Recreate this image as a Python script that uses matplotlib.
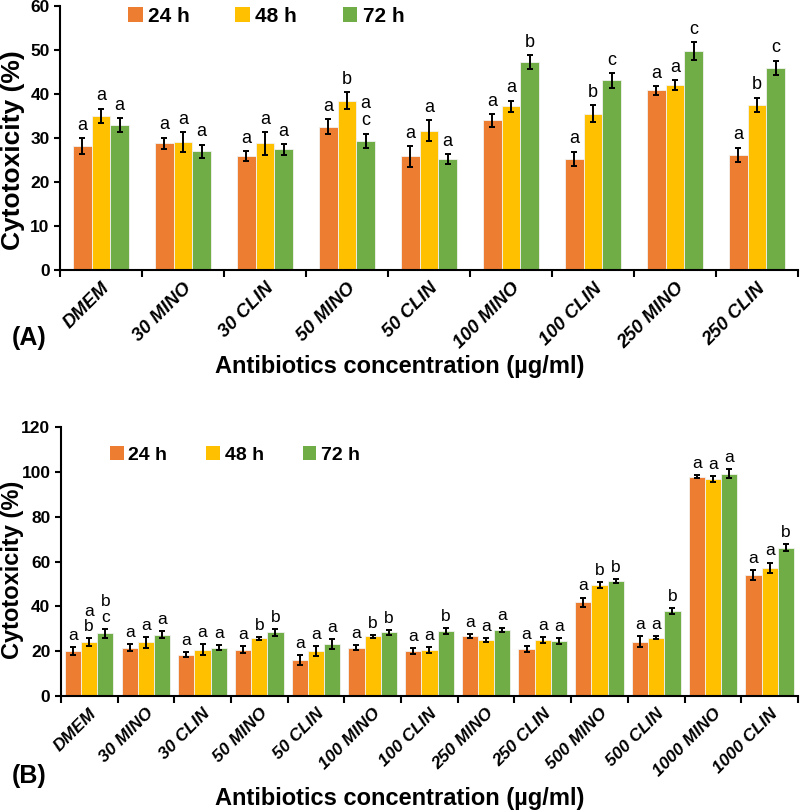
"""
Cytotoxicity of minocycline / clindamycin at 24, 48 and 72 h.
Two stacked bar panels, (A) and (B), saved to out.png.
"""
import matplotlib
matplotlib.use("Agg")
import matplotlib.pyplot as plt
from matplotlib import font_manager
from matplotlib.patches import Patch
import numpy as np

FAMILY = "Liberation Sans"
if FAMILY not in {f.name for f in font_manager.fontManager.ttflist}:
    FAMILY = "DejaVu Sans"
plt.rcParams["font.family"] = [FAMILY, "DejaVu Sans"]

series_names = ["24 h", "48 h", "72 h"]
colors = ["#ED7D31", "#FFC000", "#70AD47"]

# panel A
cats_a = ["DMEM", "30 MINO", "30 CLIN", "50 MINO", "50 CLIN",
          "100 MINO", "100 CLIN", "250 MINO", "250 CLIN"]
a_24 = [28.2, 28.8, 25.9, 32.6, 25.8, 34.0, 25.3, 40.8, 26.2]
a_48 = [35.0, 29.1, 28.8, 38.5, 31.7, 37.2, 35.5, 42.1, 37.6]
a_72 = [33.0, 27.0, 27.4, 29.4, 25.3, 47.2, 43.1, 49.8, 46.0]
a_24_err = [1.8, 1.3, 1.2, 1.7, 2.3, 1.4, 1.6, 1.0, 1.6]
a_48_err = [1.7, 2.3, 2.6, 1.9, 2.4, 1.3, 1.9, 1.1, 1.6]
a_72_err = [1.6, 1.5, 1.3, 1.6, 1.1, 1.6, 1.7, 2.0, 1.6]
a_24_let = ["a", "a", "a", "a", "a", "a", "a", "a", "a"]
a_48_let = ["a", "a", "a", "b", "a", "a", "b", "a", "b"]
a_72_let = ["a", "a", "a", "a\nc", "a", "b", "c", "c", "c"]

# panel B
cats_b = ["DMEM", "30 MINO", "30 CLIN", "50 MINO", "50 CLIN", "100 MINO",
          "100 CLIN", "250 MINO", "250 CLIN", "500 MINO", "500 CLIN",
          "1000 MINO", "1000 CLIN"]
b_24 = [20.1, 21.6, 18.4, 20.6, 16.1, 21.6, 20.1, 26.7, 21.0, 41.9, 24.3, 97.9, 54.0]
b_48 = [23.9, 23.9, 20.6, 25.7, 20.1, 26.6, 20.6, 25.1, 25.1, 49.6, 26.1, 96.9, 57.3]
b_72 = [27.9, 27.3, 21.6, 28.4, 23.3, 28.4, 29.0, 29.6, 24.6, 51.2, 37.8, 99.1, 66.1]
b_24_err = [1.8, 1.5, 1.1, 1.5, 2.3, 1.2, 1.2, 0.9, 1.3, 2.0, 2.3, 0.6, 2.2]
b_48_err = [1.8, 2.4, 2.5, 0.7, 2.3, 0.6, 1.3, 0.8, 1.3, 1.3, 0.8, 1.3, 2.2]
b_72_err = [1.9, 1.6, 1.1, 1.5, 2.2, 1.2, 1.2, 0.9, 1.3, 0.9, 1.3, 2.0, 1.6]
b_24_let = ["a"] * 13
b_48_let = ["a\nb", "a", "a", "b", "a", "b", "a", "a", "a", "b", "a", "a", "a"]
b_72_let = ["b\nc", "a", "a", "b", "a", "b", "b", "a", "a", "b", "b", "a", "b"]


def draw_panel(ax, cats, vals, errs, lets, width, ymax, ystep,
               tick_size, let_size):
    x = np.arange(len(cats))
    for j, (v, e, lab) in enumerate(zip(vals, errs, lets)):
        xs = x + (j - 1) * width
        ax.bar(xs, v, width, color=colors[j], edgecolor="#f2f2f2",
               linewidth=0.6, zorder=2)
        ax.errorbar(xs, v, yerr=e, fmt="none", ecolor="black",
                    elinewidth=1.4, capsize=2.5, capthick=1.4, zorder=3)
        for xi, vi, ei, t in zip(xs, v, e, lab):
            ax.annotate(t, (xi, vi + ei), xytext=(0, 3),
                        textcoords="offset points", ha="center",
                        va="bottom", fontsize=let_size, linespacing=1.05)
    ax.set_xlim(-0.5, len(cats) - 0.5)
    ax.set_ylim(0, ymax)
    ax.set_yticks(np.arange(0, ymax + 1, ystep))
    ax.set_xticks(x)
    ax.set_xticklabels(cats, rotation=45, ha="right",
                       rotation_mode="anchor", fontsize=tick_size,
                       fontweight="bold", fontstyle="italic")
    ax.set_xticks(np.arange(-0.5, len(cats)), minor=True)
    ax.tick_params(axis="x", which="major", length=0, pad=7)
    ax.tick_params(axis="x", which="minor", length=5, width=1.5)
    ax.tick_params(axis="y", length=4, width=1.5, labelsize=12.5)
    for lbl in ax.get_yticklabels():
        lbl.set_fontweight("bold")
    for s in ("top", "right"):
        ax.spines[s].set_visible(False)
    for s in ("left", "bottom"):
        ax.spines[s].set_linewidth(1.5)


fig = plt.figure(figsize=(8, 8.1), dpi=100)
ax_a = fig.add_axes([0.075, 0.6667, 0.9225, 0.3259])
ax_b = fig.add_axes([0.076, 0.1407, 0.9215, 0.3321])

draw_panel(ax_a, cats_a, [a_24, a_48, a_72], [a_24_err, a_48_err, a_72_err],
           [a_24_let, a_48_let, a_72_let], 0.227, 60, 10, 13.5, 13)
draw_panel(ax_b, cats_b, [b_24, b_48, b_72], [b_24_err, b_48_err, b_72_err],
           [b_24_let, b_48_let, b_72_let], 0.286, 120, 20, 12.5, 12.5)

handles = [Patch(facecolor=c, edgecolor="none") for c in colors]
fig.legend(handles, series_names, loc="center left",
           bbox_to_anchor=(128 / 800, 1 - 16 / 810), ncol=3, frameon=False,
           handlelength=0.7, handleheight=0.7, handletextpad=0.25,
           columnspacing=2.2, borderpad=0, borderaxespad=0,
           prop={"weight": "bold", "size": 15})
fig.legend(handles, series_names, loc="center left",
           bbox_to_anchor=(110 / 800, 1 - 455 / 810), ncol=3, frameon=False,
           handlelength=0.7, handleheight=0.7, handletextpad=0.25,
           columnspacing=2.0, borderpad=0, borderaxespad=0,
           prop={"weight": "bold", "size": 14})

fig.text(13 / 800, 1 - 150 / 810, "Cytotoxicity (%)", rotation=90,
         ha="center", va="center", fontsize=19, fontweight="bold")
fig.text(13 / 800, 1 - 570 / 810, "Cytotoxicity (%)", rotation=90,
         ha="center", va="center", fontsize=17, fontweight="bold")
fig.text(400 / 800, 1 - 367 / 810, "Antibiotics concentration (µg/ml)",
         ha="center", va="center", fontsize=17, fontweight="bold")
fig.text(400 / 800, 1 - 798 / 810, "Antibiotics concentration (µg/ml)",
         ha="center", va="center", fontsize=17, fontweight="bold")
fig.text(12 / 800, 1 - 338 / 810, "(A)", ha="left", va="center",
         fontsize=18, fontweight="bold")
fig.text(12 / 800, 1 - 776 / 810, "(B)", ha="left", va="center",
         fontsize=18, fontweight="bold")

fig.savefig("out.png", dpi=100)
